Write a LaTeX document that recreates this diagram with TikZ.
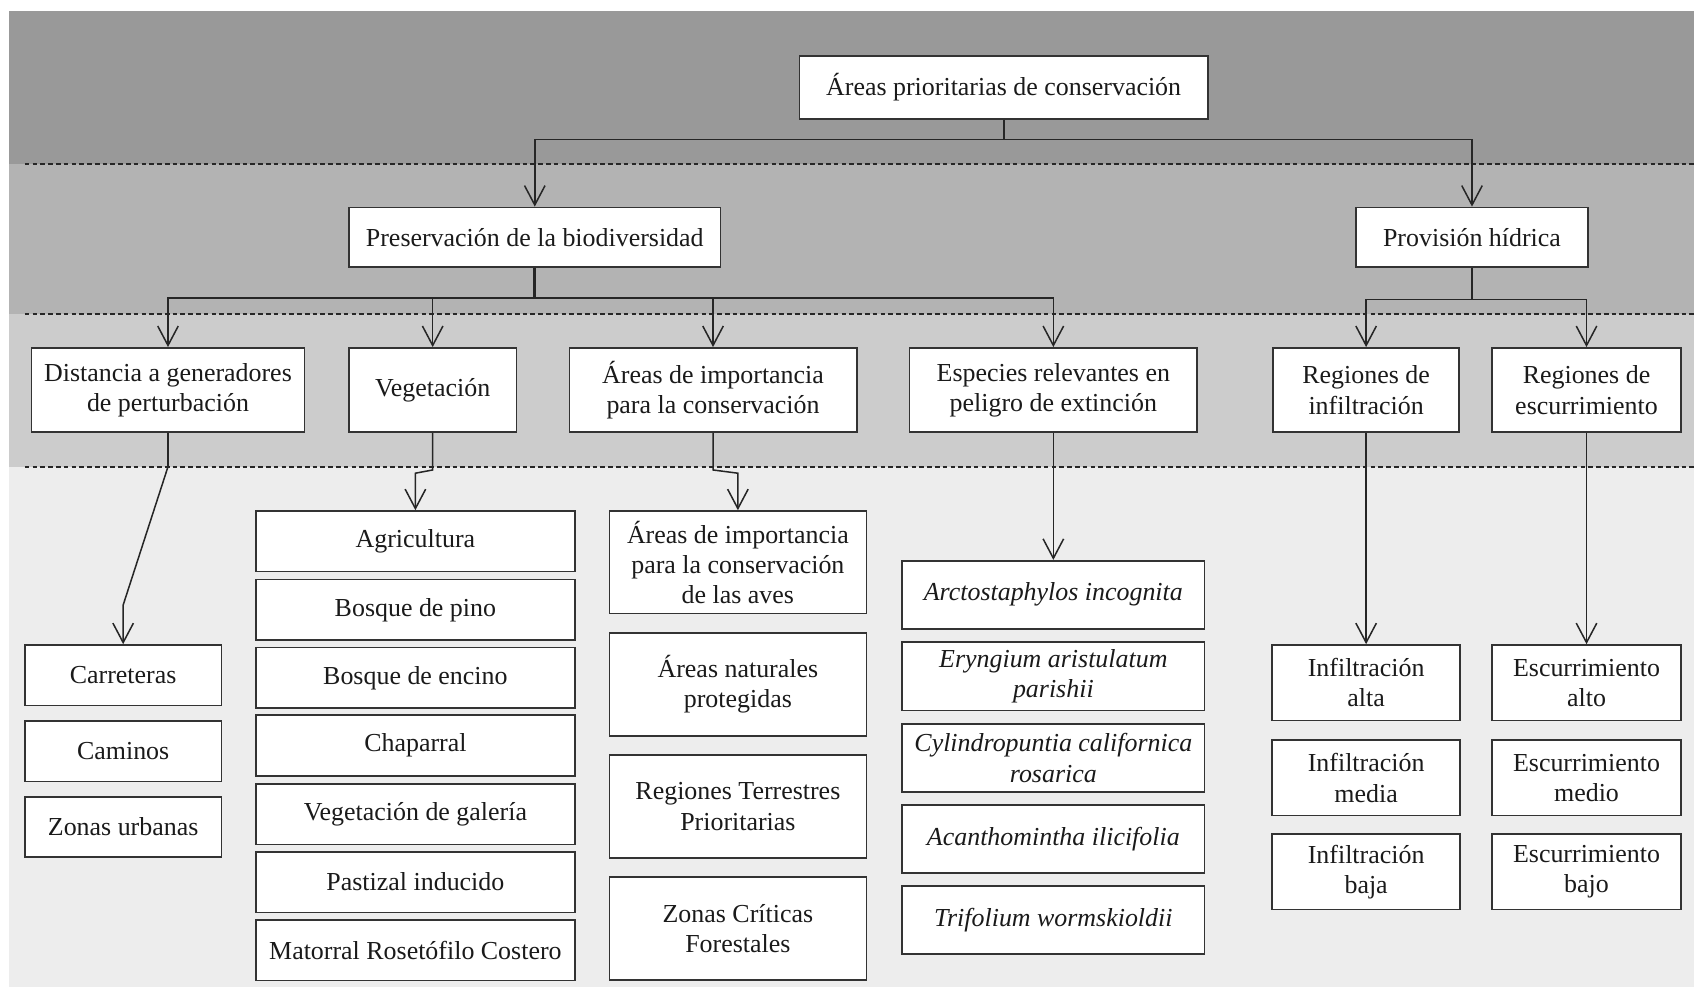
\documentclass[tikz,border=0pt]{standalone}
\usepackage{fontspec}
\setmainfont{Liberation Serif}
\usetikzlibrary{arrows.meta}
\definecolor{bandA}{HTML}{999999}
\definecolor{bandB}{HTML}{B3B3B3}
\definecolor{bandC}{HTML}{CCCCCC}
\definecolor{bandD}{HTML}{EDEDED}
\definecolor{boxc}{HTML}{333333}
\definecolor{linec}{HTML}{262626}
\definecolor{txt}{HTML}{1A1A1A}
\begin{document}
\begin{tikzpicture}[x=1pt,y=-1pt,
  bx/.style={draw=boxc, line width=1.5pt, fill=white, inner sep=0pt, align=center,
    font=\fontsize{24}{28}\selectfont, text=txt},
  arr/.style={draw=linec, line width=1.4pt, -{Straight Barb[length=18pt,width=19pt]}},
  sep/.style={draw=linec, line width=1.9pt, dash pattern=on 4.3pt off 2.9pt},
  stem/.style={draw=linec, line width=2.6pt},
  sp/.style={font=\fontsize{24}{28}\selectfont\itshape}
]
\useasboundingbox (0,0) rectangle (1568,914);
% bands
\fill[bandA] (8,10) rectangle (1568,152);
\fill[bandB] (8,152) rectangle (1568,291);
\fill[bandC] (8,291) rectangle (1568,432);
\fill[bandD] (8,432) rectangle (1568,914);
\draw[sep] (23,152) -- (1568,152);
\draw[sep] (23,291) -- (1568,291);
\draw[sep] (23,432) -- (1568,432);

% level 1-2
\node[bx, minimum width=378pt, minimum height=58pt] (top) at (929,81) {Áreas prioritarias de conservación};
\node[bx, minimum width=344pt, minimum height=55pt] (pres) at (495,219.5) {Preservación de la biodiversidad};
\node[bx, minimum width=215pt, minimum height=55pt] (prov) at (1362.5,219.5) {Provisión hídrica};

% level 3
\node[bx, minimum width=253pt, minimum height=78pt] (dist) at (155.5,361) {Distancia a generadores\\de perturbación};
\node[bx, minimum width=155pt, minimum height=78pt] (veg) at (400.5,361) {Vegetación};
\node[bx, minimum width=266pt, minimum height=78pt] (aic) at (660,361) {Áreas de importancia\\para la conservación};
\node[bx, minimum width=266pt, minimum height=78pt] (esp) at (975,361) {Especies relevantes en\\peligro de extinción};
\node[bx, minimum width=172pt, minimum height=78pt] (rinf) at (1264.5,361) {Regiones de\\infiltración};
\node[bx, minimum width=175pt, minimum height=78pt] (resc) at (1468.5,361) {Regiones de\\escurrimiento};

% level 4: distance
\node[bx, minimum width=182pt, minimum height=56pt] (carr) at (114,625) {Carreteras};
\node[bx, minimum width=182pt, minimum height=56pt] (cam) at (114,695.5) {Caminos};
\node[bx, minimum width=182pt, minimum height=56pt] (zu) at (114,765.5) {Zonas urbanas};

% vegetation
\node[bx, minimum width=295pt, minimum height=56pt] (agri) at (384.5,501) {Agricultura};
\node[bx, minimum width=295pt, minimum height=56pt] (bp) at (384.5,564.5) {Bosque de pino};
\node[bx, minimum width=295pt, minimum height=56pt] (be) at (384.5,627.5) {Bosque de encino};
\node[bx, minimum width=295pt, minimum height=56pt] (cha) at (384.5,690) {Chaparral};
\node[bx, minimum width=295pt, minimum height=56pt] (vg) at (384.5,753.5) {Vegetación de galería};
\node[bx, minimum width=295pt, minimum height=56pt] (pi) at (384.5,816.5) {Pastizal inducido};
\node[bx, minimum width=295pt, minimum height=56pt] (mrc) at (384.5,879.5) {Matorral Rosetófilo Costero};

% areas
\node[bx, minimum width=238pt, minimum height=95pt] (aves) at (683,520.5) {Áreas de importancia\\para la conservación\\de las aves};
\node[bx, minimum width=238pt, minimum height=95pt] (anp) at (683,633.5) {Áreas naturales\\protegidas};
\node[bx, minimum width=238pt, minimum height=95pt] (rtp) at (683,746.5) {Regiones Terrestres\\Prioritarias};
\node[bx, minimum width=238pt, minimum height=95pt] (zcf) at (683,859.5) {Zonas Críticas\\Forestales};

% species
\node[bx, sp, minimum width=280pt, minimum height=63pt] (arc) at (975,550.5) {Arctostaphylos incognita};
\node[bx, sp, minimum width=280pt, minimum height=63pt] (ery) at (975,626) {Eryngium aristulatum\\parishii};
\node[bx, sp, minimum width=280pt, minimum height=63pt] (cyl) at (975,701.5) {Cylindropuntia californica\\rosarica};
\node[bx, sp, minimum width=280pt, minimum height=63pt] (aca) at (975,776.5) {Acanthomintha ilicifolia};
\node[bx, sp, minimum width=280pt, minimum height=63pt] (tri) at (975,851.5) {Trifolium wormskioldii};

% infiltration
\node[bx, minimum width=174pt, minimum height=70pt] (ia) at (1264.5,632) {Infiltración\\alta};
\node[bx, minimum width=174pt, minimum height=70pt] (im) at (1264.5,720) {Infiltración\\media};
\node[bx, minimum width=174pt, minimum height=70pt] (ib) at (1264.5,807) {Infiltración\\baja};
% runoff
\node[bx, minimum width=175pt, minimum height=70pt] (ea) at (1468.5,632) {Escurrimiento\\alto};
\node[bx, minimum width=175pt, minimum height=70pt] (em) at (1468.5,720) {Escurrimiento\\medio};
\node[bx, minimum width=175pt, minimum height=70pt] (eb) at (1468.5,807) {Escurrimiento\\bajo};

% connectors
\coordinate (j1) at (929,129);
\draw[draw=linec, line width=1.8pt] (top.south) -- (j1);
\draw[arr] (j1) -| (pres.north);
\draw[arr] (j1) -| (prov.north);

\coordinate (j2) at (495,276);
\draw[stem] (pres.south) -- (j2);
\draw[arr] (j2) -| (dist.north);
\draw[arr] (j2) -| (veg.north);
\draw[arr] (j2) -| (aic.north);
\draw[arr] (j2) -| (esp.north);

\coordinate (j3) at (1362.5,277);
\draw[draw=linec, line width=1.5pt] (prov.south) -- (j3);
\draw[arr] (j3) -| (rinf.north);
\draw[arr] (j3) -| (resc.north);

\coordinate (d1) at (155.5,432);
\coordinate (d2) at (114,560);
\draw[arr] (dist.south) -- (d1) -- (d2) -- (carr.north);

\coordinate (v1) at (400.5,435);
\coordinate (v2) at (384.5,438);
\draw[arr] (veg.south) -- (v1) -- (v2) -- (agri.north);

\coordinate (a1) at (660,435);
\coordinate (a2) at (683,438);
\draw[arr] (aic.south) -- (a1) -- (a2) -- (aves.north);

\draw[arr] (esp.south) -- (arc.north);
\draw[arr] (rinf.south) -- (ia.north);
\draw[arr] (resc.south) -- (ea.north);
\end{tikzpicture}
\end{document}
